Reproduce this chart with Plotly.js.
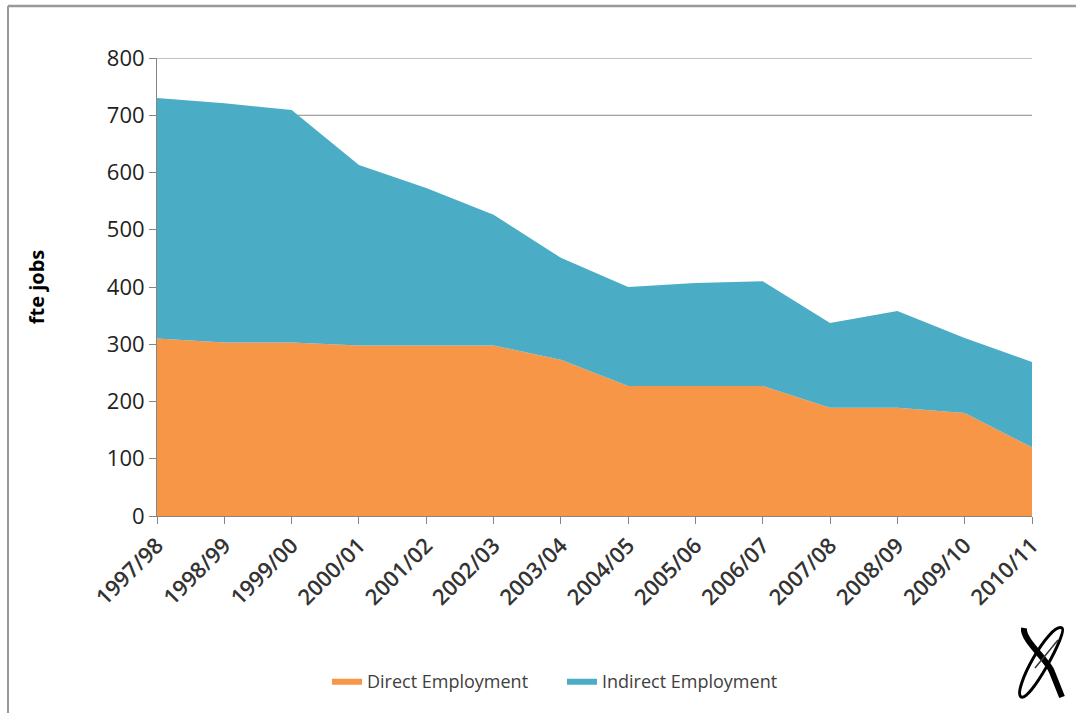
<!DOCTYPE html>
<html>
<head>
<meta charset="utf-8">
<script src="https://cdn.plot.ly/plotly-3.0.1.min.js"></script>
<style>html,body{margin:0;padding:0;background:#fff;}#chart{width:1076px;height:713px;}</style>
</head>
<body>
<div id="chart"></div>
<script>
const years = ["1997/98","1998/99","1999/00","2000/01","2001/02","2002/03","2003/04","2004/05","2005/06","2006/07","2007/08","2008/09","2009/10","2010/11"];
const directEmployment = [310, 303, 303, 298, 298, 298, 273, 227, 227, 227, 189, 189, 180, 120];
const indirectEmployment = [420, 418, 406, 315, 275, 228, 178, 173, 180, 183, 148, 169, 131, 149];
const yTicks = [0, 100, 200, 300, 400, 500, 600, 700, 800];

const W = 1076, H = 713;
const L = 157, R = 44, T = 58, B = 197;
const pw = W - L - R, ph = H - T - B;
const px = x => (x - L) / pw;
const py = y => (H - B - y) / ph;

const font = "'Open Sans', 'Noto Sans', sans-serif";

const traces = [
  {
    x: years, y: directEmployment, name: "Direct Employment",
    type: "scatter", mode: "lines", stackgroup: "one",
    line: {width: 0, color: "#F79646"}, fillcolor: "#F79646"
  },
  {
    x: years, y: indirectEmployment, name: "Indirect Employment",
    type: "scatter", mode: "lines", stackgroup: "one",
    line: {width: 0, color: "#4BACC6"}, fillcolor: "#4BACC6"
  }
];

function P(pts){ return pts.map(([c, x, y]) => c + (x===undefined ? "" : " " + px(x).toFixed(4) + "," + py(y).toFixed(4))).join(" "); }

const layout = {
  width: W, height: H,
  margin: {l: L, r: R, t: T, b: B},
  paper_bgcolor: "#fff", plot_bgcolor: "#fff",
  showlegend: true,
  legend: {
    orientation: "h", x: px(562), xanchor: "center", y: py(681), yanchor: "middle",
    font: {family: font, size: 18, color: "#404040"}, traceorder: "normal",
    itemwidth: 30, entrywidth: 190
  },
  xaxis: {
    type: "category", range: [0, 13], showgrid: false,
    showline: true, linecolor: "#868686", linewidth: 1,
    ticks: "outside", ticklen: 7, tickcolor: "#868686",
    tickangle: -45, tickfont: {family: font, size: 22, color: "#333", weight: 600},
    zeroline: false
  },
  yaxis: {
    range: [0, 800], tickvals: yTicks, showgrid: false,
    showline: true, linecolor: "#868686", linewidth: 1,
    ticks: "outside", ticklen: 7, tickcolor: "#868686",
    tickfont: {family: font, size: 22, color: "#222"},
    title: {text: "fte jobs", font: {family: font, size: 20, color: "#000", weight: "bold"}, standoff: 56},
    zeroline: false
  },
  shapes: [
    {type: "line", xref: "paper", yref: "y", x0: 0, x1: 1, y0: 700, y1: 700, line: {color: "#868686", width: 1}, layer: "below"},
    {type: "line", xref: "paper", yref: "y", x0: 0, x1: 1, y0: 800, y1: 800, line: {color: "#868686", width: 1}, layer: "below"},
    {type: "line", xref: "paper", yref: "paper", x0: px(8), x1: px(1076), y0: py(6), y1: py(6), line: {color: "#999", width: 2.5}},
    {type: "line", xref: "paper", yref: "paper", x0: px(8), x1: px(8), y0: py(6), y1: py(713), line: {color: "#999", width: 2}},
    {type: "path", xref: "paper", yref: "paper",
      path: P([["M",1021,697],["C",1012,690],["",1050,622],["",1062,628],["C",1068,632],["",1030,702],["",1021,697],["Z"]]),
      line: {color: "#000", width: 3}},
    {type: "path", xref: "paper", yref: "paper",
      path: P([["M",1024,628],["C",1022,640],["",1048,660],["",1052,672],["L",1062,697]]),
      line: {color: "#000", width: 6}},
    {type: "path", xref: "paper", yref: "paper",
      path: P([["M",1035,668],["L",1058,640]]),
      line: {color: "#333", width: 1.5}}
  ]
};

Plotly.newPlot("chart", traces, layout, {displayModeBar: false, staticPlot: true});
</script>
</body>
</html>
